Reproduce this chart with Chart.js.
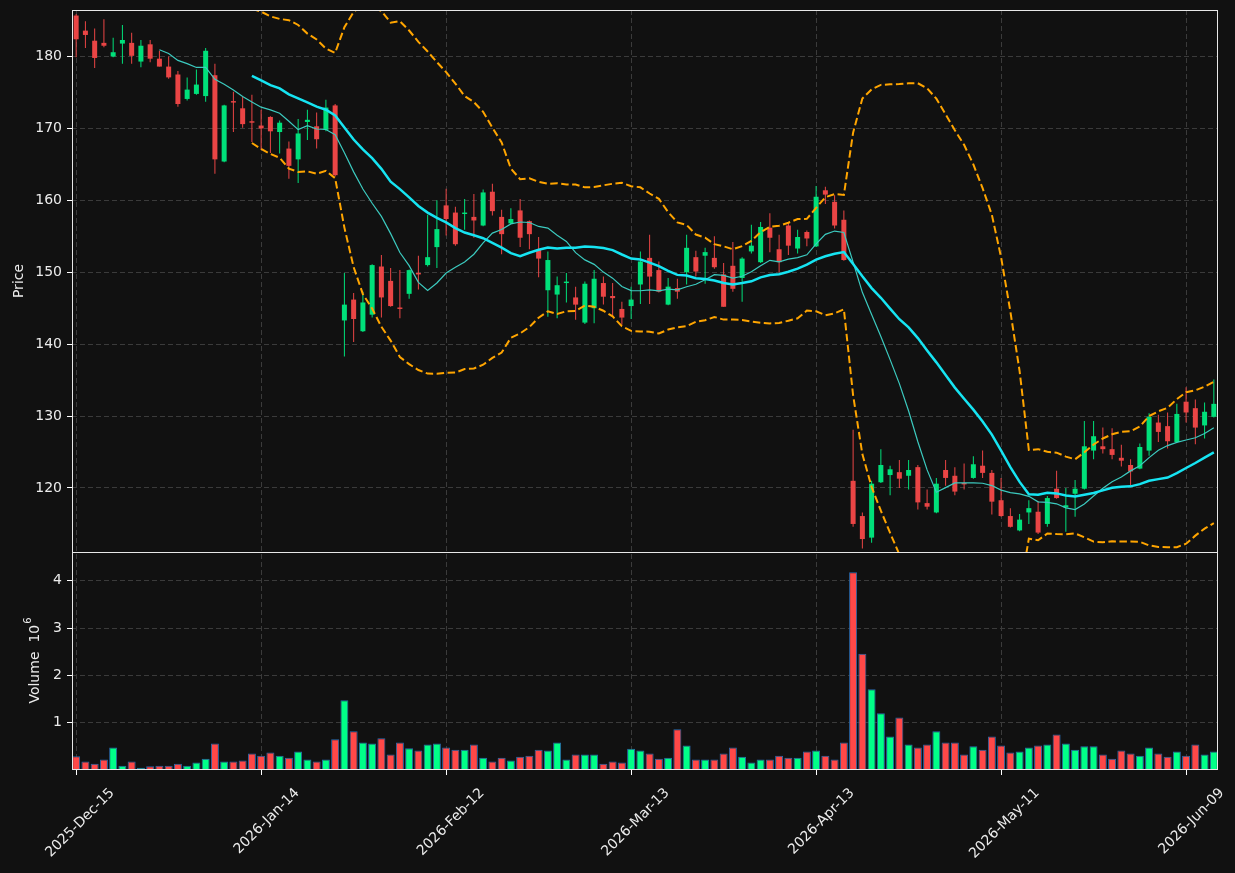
<!DOCTYPE html>
<html>
<head>
<meta charset="utf-8">
<title>Price / Volume</title>
<script src="https://cdn.jsdelivr.net/npm/chart.js@4.4.1/dist/chart.umd.min.js"></script>
<style>
  html, body { margin: 0; padding: 0; background: #111111; }
  #wrap { width: 1235px; height: 873px; }
</style>
</head>
<body>
<div id="wrap"><canvas id="ch" width="1235" height="873"></canvas></div>
<script>
// ══════════════════════════════════════════════════════════════════════════════
//  DATA  (one entry per trading day)
// ══════════════════════════════════════════════════════════════════════════════
const opens = [
  185.7, 183.6, 182.2, 181.9, 180.0, 181.8, 181.9, 179.3, 181.7, 179.7,
  178.6, 177.5, 174.1, 174.8, 174.5, 177.4, 165.4, 173.8, 172.8, 171.0,
  170.4, 171.6, 169.5, 167.2, 165.7, 170.9, 170.3, 169.8, 173.2, 143.3,
  146.2, 141.8, 144.1, 150.8, 148.8, 145.1, 147.0, 149.9, 151.0, 153.5,
  159.3, 158.3, 158.1, 157.7, 156.5, 161.2, 157.7, 156.8, 158.6, 157.1,
  153.1, 147.5, 146.9, 148.5, 146.5, 143.0, 145.0, 148.5, 146.7, 144.9,
  145.3, 148.3, 152.0, 150.3, 145.5, 147.8, 150.0, 152.1, 152.3, 152.0,
  149.7, 150.9, 149.2, 152.9, 151.4, 156.2, 153.2, 156.5, 153.3, 155.6,
  153.6, 161.4, 159.8, 157.3, 121.0, 116.1, 113.1, 120.8, 121.8, 122.2,
  121.7, 122.9, 117.9, 116.6, 122.5, 121.7, 120.7, 121.4, 123.1, 122.1,
  118.3, 116.1, 114.1, 116.6, 116.7, 115.0, 119.9, 117.3, 119.2, 119.9,
  125.2, 125.8, 125.4, 124.2, 123.2, 122.7, 125.2, 129.1, 128.6, 126.4,
  132.0, 131.1, 128.7, 129.9
];
const highs = [
  185.9, 184.9, 183.9, 185.2, 182.6, 184.4, 183.3, 182.3, 182.3, 180.8,
  180.0, 178.0, 177.1, 178.2, 181.2, 179.0, 173.3, 175.1, 174.4, 174.7,
  172.6, 171.7, 171.1, 168.2, 171.3, 172.6, 172.2, 174.0, 173.4, 149.9,
  147.1, 147.3, 151.1, 152.4, 150.6, 150.3, 150.4, 152.3, 158.0, 160.0,
  161.6, 159.1, 160.2, 160.9, 161.5, 162.3, 158.7, 158.9, 160.2, 157.2,
  154.9, 152.9, 149.4, 149.9, 148.0, 148.7, 150.3, 149.4, 148.5, 145.9,
  148.0, 152.9, 155.2, 151.5, 149.2, 149.1, 155.2, 153.0, 153.4, 155.0,
  151.3, 154.2, 152.1, 156.6, 157.0, 158.2, 155.2, 156.9, 155.9, 155.8,
  162.0, 161.9, 160.7, 158.6, 128.1, 116.6, 121.0, 125.4, 123.1, 123.9,
  123.9, 123.2, 119.8, 121.4, 123.9, 122.9, 123.4, 124.4, 125.2, 122.5,
  121.4, 117.2, 116.4, 118.3, 118.2, 118.9, 122.4, 120.0, 121.1, 129.3,
  129.3, 128.4, 128.3, 126.0, 124.0, 126.2, 130.4, 130.2, 130.5, 131.7,
  134.0, 132.3, 131.9, 135.1
];
const lows = [
  179.9, 181.2, 178.4, 181.3, 179.9, 179.0, 179.0, 178.5, 179.2, 178.6,
  176.9, 173.0, 173.9, 174.7, 173.7, 163.7, 165.3, 169.5, 170.1, 168.1,
  167.0, 166.6, 166.5, 163.0, 162.4, 168.4, 167.2, 169.6, 163.3, 138.3,
  140.3, 141.7, 143.7, 143.7, 145.2, 143.6, 146.3, 147.6, 150.8, 150.6,
  155.1, 153.7, 155.9, 154.8, 156.4, 157.9, 152.5, 156.7, 153.5, 153.2,
  149.3, 143.8, 143.6, 145.8, 143.4, 142.8, 142.9, 145.5, 143.8, 142.7,
  143.5, 145.6, 145.6, 147.2, 145.4, 146.3, 148.3, 149.4, 148.4, 150.5,
  145.2, 147.3, 145.9, 152.6, 151.3, 152.8, 150.0, 152.4, 152.6, 153.6,
  153.5, 159.5, 156.1, 151.6, 114.6, 111.6, 112.4, 120.7, 119.0, 120.0,
  119.8, 117.0, 117.0, 116.5, 120.3, 119.0, 119.8, 121.3, 121.4, 116.3,
  116.0, 114.5, 114.0, 115.0, 113.6, 114.6, 118.5, 113.9, 116.0, 119.8,
  124.0, 124.8, 124.0, 123.0, 120.4, 122.6, 124.5, 126.4, 125.5, 126.3,
  129.1, 126.1, 126.9, 129.8
];
const closes = [
  182.4, 183.0, 179.8, 181.5, 180.6, 182.3, 180.1, 181.5, 179.7, 178.6,
  177.1, 173.4, 175.4, 176.1, 180.8, 165.7, 173.2, 173.6, 170.6, 170.8,
  170.0, 169.6, 170.8, 164.8, 169.3, 171.2, 168.5, 172.9, 163.5, 145.5,
  143.5, 145.8, 151.0, 146.5, 145.3, 144.9, 150.3, 149.7, 152.1, 156.0,
  157.4, 153.9, 158.3, 157.2, 161.1, 158.5, 155.3, 157.4, 154.8, 155.3,
  151.9, 151.7, 148.2, 148.7, 145.5, 148.4, 149.1, 146.6, 146.4, 143.7,
  146.2, 151.5, 149.4, 147.3, 148.0, 147.3, 153.4, 150.1, 152.8, 150.7,
  145.2, 147.7, 151.9, 153.7, 156.3, 154.8, 151.4, 153.7, 154.9, 154.7,
  160.5, 160.8, 156.5, 151.7, 115.0, 112.9, 120.6, 123.2, 122.6, 121.3,
  122.5, 118.0, 117.4, 120.6, 121.4, 119.5, 120.5, 123.3, 122.1, 118.1,
  116.1, 114.6, 115.6, 117.2, 113.8, 118.6, 118.6, 117.6, 119.9, 125.8,
  127.2, 125.4, 124.6, 123.8, 122.3, 125.7, 129.9, 127.8, 126.5, 130.3,
  130.5, 128.4, 130.6, 131.7
];
// volume in millions of shares
const volumes = [
  0.29, 0.18, 0.13, 0.22, 0.475, 0.09, 0.18, 0.05, 0.08, 0.09,
  0.09, 0.13, 0.09, 0.16, 0.24, 0.56, 0.18, 0.18, 0.20, 0.35,
  0.30, 0.37, 0.30, 0.26, 0.39, 0.22, 0.18, 0.22, 0.65, 1.475,
  0.82, 0.58, 0.56, 0.67, 0.33, 0.58, 0.46, 0.41, 0.54, 0.56,
  0.475, 0.43, 0.43, 0.54, 0.26, 0.18, 0.26, 0.20, 0.28, 0.30,
  0.43, 0.41, 0.58, 0.22, 0.33, 0.33, 0.33, 0.13, 0.18, 0.16,
  0.45, 0.41, 0.35, 0.24, 0.26, 0.86, 0.52, 0.22, 0.22, 0.22,
  0.35, 0.475, 0.28, 0.16, 0.22, 0.22, 0.30, 0.26, 0.26, 0.39,
  0.41, 0.30, 0.22, 0.58, 4.18, 2.46, 1.71, 1.20, 0.71, 1.11,
  0.54, 0.475, 0.54, 0.82, 0.58, 0.58, 0.33, 0.50, 0.43, 0.71,
  0.52, 0.37, 0.39, 0.475, 0.52, 0.54, 0.75, 0.56, 0.43, 0.50,
  0.50, 0.33, 0.24, 0.41, 0.35, 0.30, 0.475, 0.35, 0.28, 0.39,
  0.30, 0.54, 0.33, 0.39
];

const tickIdx    = [0, 20, 40, 60, 80, 100, 120];
const tickLabels = ['2025-Dec-15', '2026-Jan-14', '2026-Feb-12', '2026-Mar-13',
                    '2026-Apr-13', '2026-May-11', '2026-Jun-09'];
const priceTicks = [120, 130, 140, 150, 160, 170, 180];
const volTicks   = [1, 2, 3, 4];

// ══════════════════════════════════════════════════════════════════════════════
//  INDICATORS (moving averages + bollinger, from the closes)
// ══════════════════════════════════════════════════════════════════════════════
function sma(arr, n) {
  return arr.map((_, i) => {
    if (i < n - 1) return null;
    let s = 0;
    for (let j = i - n + 1; j <= i; j++) s += arr[j];
    return s / n;
  });
}

function bollinger(arr, n, k) {
  const mid = sma(arr, n);
  const up = [], lo = [];
  arr.forEach((_, i) => {
    if (mid[i] === null) { up.push(null); lo.push(null); return; }
    let v = 0;
    for (let j = i - n + 1; j <= i; j++) v += (arr[j] - mid[i]) ** 2;
    const sd = Math.sqrt(v / n);
    up.push(mid[i] + k * sd);
    lo.push(mid[i] - k * sd);
  });
  return { up, lo };
}

const ma10 = sma(closes, 10);
const ma20 = sma(closes, 20);
const bb   = bollinger(closes, 20, 2);

// ══════════════════════════════════════════════════════════════════════════════
//  CHART
// ══════════════════════════════════════════════════════════════════════════════
const UP = '#00e07a', DOWN = '#ea4545';
const VUP = '#00ff88', VDOWN = '#ff4848';
const GRID = '#3b3b3b', TXT = '#ececec';
const FONT = { family: 'DejaVu Sans', size: 14 };

const idx = closes.map((_, i) => i);
const candleColors = idx.map(i => closes[i] >= opens[i] ? UP : DOWN);
const volColors    = idx.map(i => closes[i] >= opens[i] ? VUP : VDOWN);
const pts = arr => idx.map(i => ({ x: i, y: arr[i] }));

const lineDs = (label, arr, color, width, dash) => ({
  type: 'line', label, data: pts(arr), xAxisID: 'x', yAxisID: 'y',
  borderColor: color, borderWidth: width, borderDash: dash || [],
  pointRadius: 0, tension: 0, spanGaps: false, fill: false, order: 0,
});

// fixed-size y axes, no extra label padding
const fitY = s => { s.width = 72; s.paddingTop = 0; s.paddingBottom = 0; };

const bgPlugin = {
  id: 'bg',
  beforeDraw(chart) {
    const c = chart.ctx;
    c.save();
    c.fillStyle = '#111111';
    c.fillRect(0, 0, chart.width, chart.height);
    c.restore();
  },
};

// keep every dataset inside its own panel
const panelClip = {
  id: 'panelClip',
  beforeDatasetDraw(chart, args) {
    const ys = args.meta.yScale, a = chart.chartArea;
    chart.ctx.save();
    chart.ctx.beginPath();
    chart.ctx.rect(a.left, ys.top, a.right - a.left, ys.bottom - ys.top);
    chart.ctx.clip();
  },
  afterDatasetDraw(chart) { chart.ctx.restore(); },
};

const frames = {
  id: 'frames',
  afterDraw(chart) {
    const c = chart.ctx, a = chart.chartArea;
    const yp = chart.scales.y, yv = chart.scales.yv;
    c.save();
    c.strokeStyle = '#e8e8e8';
    c.lineWidth = 1;
    c.strokeRect(a.left + 0.5, yp.top + 0.5, a.right - a.left - 1, yp.bottom - yp.top);
    c.strokeRect(a.left + 0.5, yv.top + 0.5, a.right - a.left - 1, yv.bottom - yv.top - 1);

    // axis titles
    c.fillStyle = TXT;
    c.font = '14px "DejaVu Sans"';
    c.textBaseline = 'middle';
    c.textAlign = 'center';
    c.save();
    c.translate(19, (yp.top + yp.bottom) / 2);
    c.rotate(-Math.PI / 2);
    c.fillText('Price', 0, 0);
    c.restore();

    const main = 'Volume  10', sup = '6';
    const wMain = c.measureText(main).width;
    c.font = '10px "DejaVu Sans"';
    const wSup = c.measureText(sup).width;
    c.save();
    c.translate(35, (yv.top + yv.bottom) / 2);
    c.rotate(-Math.PI / 2);
    c.textAlign = 'left';
    const x0 = -(wMain + wSup) / 2;
    c.font = '14px "DejaVu Sans"';
    c.fillText(main, x0, 0);
    c.font = '10px "DejaVu Sans"';
    c.fillText(sup, x0 + wMain + 1, -7);
    c.restore();
    c.restore();
  },
};

new Chart(document.getElementById('ch'), {
  type: 'bar',
  data: {
    datasets: [
      lineDs('MA20', ma20, '#16e4f2', 2.5),
      lineDs('MA10', ma10, '#3ccabf', 1.2),
      lineDs('BB upper', bb.up, '#ffa500', 2, [7.5, 3.5]),
      lineDs('BB lower', bb.lo, '#ffa500', 2, [7.5, 3.5]),
      {
        label: 'body', data: idx.map(i => ({ x: i, y: [opens[i], closes[i]] })),
        xAxisID: 'x', yAxisID: 'y', backgroundColor: candleColors,
        barThickness: 5, grouped: false, borderWidth: 0, minBarLength: 1,
        inflateAmount: 0, order: 1,
      },
      {
        label: 'wick', data: idx.map(i => ({ x: i, y: [lows[i], highs[i]] })),
        xAxisID: 'x', yAxisID: 'y', backgroundColor: candleColors,
        barThickness: 1, grouped: false, borderWidth: 0, inflateAmount: 0, order: 2,
      },
      {
        label: 'volume', data: pts(volumes),
        xAxisID: 'x', yAxisID: 'yv', backgroundColor: volColors,
        borderColor: '#2a6aae', borderWidth: 1, borderSkipped: 'start',
        barThickness: 8, grouped: false, inflateAmount: 0, order: 3,
      },
    ],
  },
  options: {
    responsive: false,
    animation: false,
    devicePixelRatio: 1,
    layout: { padding: { top: 10, right: 17, left: 0, bottom: 0 } },
    plugins: { legend: { display: false }, tooltip: { enabled: false } },
    scales: {
      x: {
        type: 'linear', position: 'bottom', min: -0.45, max: 123.45, bounds: 'data',
        offset: false,
        afterBuildTicks: s => { s.ticks = tickIdx.map(v => ({ value: v })); },
        afterFit: s => { s.height = 103; s.paddingLeft = 0; s.paddingRight = 0; },
        ticks: {
          autoSkip: false, minRotation: 45, maxRotation: 45, color: TXT, font: FONT,
          labelOffset: 36, padding: 10,
          callback: (v, i) => tickLabels[i],
        },
        grid: { offset: false, color: GRID, lineWidth: 1, tickLength: 5, tickColor: '#ffffff', tickWidth: 1 },
        border: { display: false, dash: [5, 3] },
      },
      // stacked axes are laid out bottom-up: volume first, price on top
      yv: {
        type: 'linear', position: 'left', stack: 'panels', stackWeight: 218,
        min: 0, max: 4.61, bounds: 'data',
        afterBuildTicks: s => { s.ticks = volTicks.map(v => ({ value: v })); },
        afterFit: fitY,
        ticks: { color: TXT, font: FONT, padding: 5 },
        grid: { color: GRID, lineWidth: 1, tickLength: 5, tickColor: '#ffffff', tickWidth: 1 },
        border: { display: false, dash: [5, 3] },
      },
      y: {
        type: 'linear', position: 'left', stack: 'panels', stackWeight: 542,
        min: 111.1, max: 186.47, bounds: 'data',
        afterBuildTicks: s => { s.ticks = priceTicks.map(v => ({ value: v })); },
        afterFit: fitY,
        ticks: { color: TXT, font: FONT, padding: 5 },
        grid: { color: GRID, lineWidth: 1, tickLength: 5, tickColor: '#ffffff', tickWidth: 1 },
        border: { display: false, dash: [5, 3] },
      },
    },
  },
  plugins: [bgPlugin, panelClip, frames],
});
</script>
</body>
</html>
